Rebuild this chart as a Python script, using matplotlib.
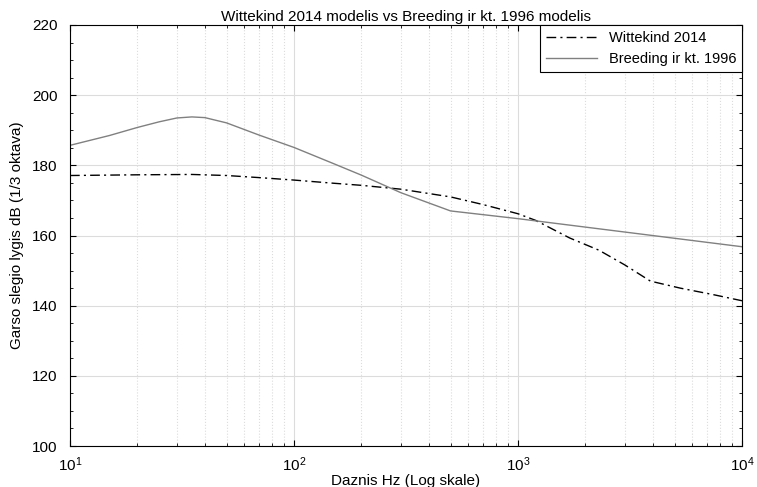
import matplotlib
matplotlib.use("Agg")
import matplotlib.pyplot as plt
from matplotlib.ticker import LogLocator, MultipleLocator, NullFormatter

plt.rcParams['font.family'] = ['Liberation Sans', 'DejaVu Sans']

# Wittekind 2014 model
wit_freq = [10, 20, 35, 50, 70, 100, 150, 200, 300, 500, 700, 1000, 1200, 1700,
            2300, 3000, 3900, 5300, 7500, 10000]
wit_db = [177.1, 177.3, 177.4, 177.1, 176.5, 175.8, 174.9, 174.3, 173.2, 171.0,
          168.8, 166.2, 164.3, 159.3, 155.8, 151.6, 147.0, 145.0, 143.1, 141.4]

# Breeding et al. 1996 model
bre_freq = [10, 15, 20, 25, 30, 35, 40, 50, 70, 100, 150, 200, 300, 500,
            1000, 10000]
bre_db = [185.7, 188.5, 190.8, 192.4, 193.5, 193.8, 193.6, 192.1, 188.6, 185.1,
          180.5, 177.2, 172.2, 167.0, 164.8, 156.8]

fig = plt.figure(figsize=(7.57, 4.87), dpi=100)
ax = fig.add_axes([70 / 757, 1 - 446 / 487, 672 / 757, 421 / 487])

ax.semilogx(wit_freq, wit_db, color="black", linestyle=(0, (7, 3, 1.5, 3)),
            linewidth=1.0, label="Wittekind 2014")
ax.semilogx(bre_freq, bre_db, color="#808080", linestyle="-", linewidth=1.0,
            label="Breeding ir kt. 1996")

ax.set_xlim(10, 1e4)
ax.set_ylim(100, 220)
ax.yaxis.set_major_locator(MultipleLocator(20))
ax.yaxis.set_minor_locator(MultipleLocator(5))
ax.xaxis.set_major_locator(LogLocator(base=10))
ax.xaxis.set_minor_locator(LogLocator(base=10, subs=range(2, 10)))
ax.xaxis.set_minor_formatter(NullFormatter())

# grid: solid major, dotted minor on x only
ax.grid(which="major", color="#dcdcdc", linestyle="-", linewidth=0.8)
ax.grid(which="minor", axis="x", color="#dcdcdc", linestyle=":", linewidth=0.8)
ax.set_axisbelow(True)

ax.tick_params(which="both", direction="in", top=True, right=True, labelsize=11,
               colors="black")
ax.tick_params(axis="x", which="major", pad=7)
ax.tick_params(axis="y", which="major", pad=9)
ax.tick_params(which="major", length=4)
ax.tick_params(which="minor", length=2.5)
for s in ax.spines.values():
    s.set_linewidth(0.8)

ax.set_title("Wittekind 2014 modelis vs Breeding ir kt. 1996 modelis",
             fontsize=11, pad=3)
ax.set_xlabel("Daznis Hz (Log skale)", fontsize=11, labelpad=0)
ax.set_ylabel("Garso slegio lygis dB (1/3 oktava)", fontsize=11, labelpad=6)

leg = ax.legend(loc="upper right", fontsize=10.5, fancybox=False, framealpha=1,
                edgecolor="black", borderaxespad=0.0, handlelength=3.5)
leg.get_frame().set_linewidth(0.8)

fig.savefig("out.png", dpi=100)
